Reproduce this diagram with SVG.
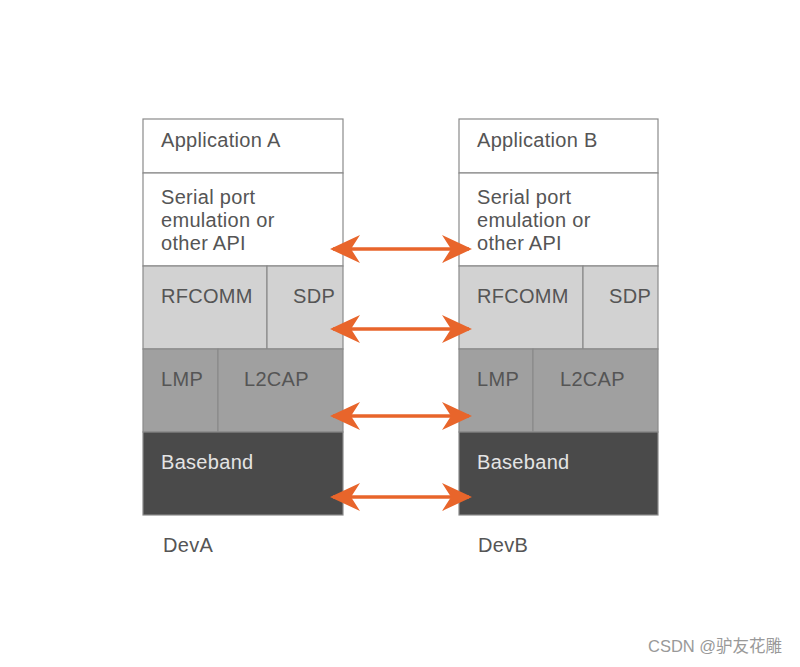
<svg xmlns="http://www.w3.org/2000/svg" width="800" height="667" viewBox="0 0 800 667">
<defs>
<style>
.t{font-family:"Liberation Sans",Arial,sans-serif;font-size:20px;fill:#555;letter-spacing:0.3px}
.tl{fill:#e4e4e4}
.b{stroke:#8a8a8a;stroke-width:1.2}
.c{stroke:#e8652b;stroke-width:3.5;fill:none}
</style>
<marker id="ah" viewBox="0 0 30 28" refX="27" refY="14" markerWidth="30" markerHeight="28" markerUnits="userSpaceOnUse" orient="auto-start-reverse">
<path d="M0,0 L30,14 L0,28 L9,14 Z" fill="#e8652b"/>
</marker>
</defs>
<rect width="800" height="667" fill="#ffffff"/>
<g id="devA">
<rect class="b" x="143" y="119" width="200" height="54" fill="#fff"/>
<rect class="b" x="143" y="173" width="200" height="93" fill="#fff"/>
<rect class="b" x="143" y="266" width="124" height="83" fill="#d2d2d2"/>
<rect class="b" x="267" y="266" width="76" height="83" fill="#d2d2d2"/>
<rect class="b" x="143" y="349" width="75" height="83" fill="#a0a0a0"/>
<rect class="b" x="218" y="349" width="125" height="83" fill="#a0a0a0"/>
<rect class="b" x="143" y="432" width="200" height="83" fill="#4a4a4a"/>
<text class="t" x="161" y="147">Application A</text>
<text class="t" x="161" y="204">Serial port</text>
<text class="t" x="161" y="227">emulation or</text>
<text class="t" x="161" y="250">other API</text>
<text class="t" x="161" y="303">RFCOMM</text>
<text class="t" x="293" y="303">SDP</text>
<text class="t" x="161" y="386">LMP</text>
<text class="t" x="244" y="386">L2CAP</text>
<text class="t tl" x="161" y="469">Baseband</text>
<text class="t" x="163" y="552">DevA</text>
</g>
<g id="devB">
<rect class="b" x="459" y="119" width="199" height="54" fill="#fff"/>
<rect class="b" x="459" y="173" width="199" height="93" fill="#fff"/>
<rect class="b" x="459" y="266" width="124" height="83" fill="#d2d2d2"/>
<rect class="b" x="583" y="266" width="75" height="83" fill="#d2d2d2"/>
<rect class="b" x="459" y="349" width="74" height="83" fill="#a0a0a0"/>
<rect class="b" x="533" y="349" width="125" height="83" fill="#a0a0a0"/>
<rect class="b" x="459" y="432" width="199" height="83" fill="#4a4a4a"/>
<text class="t" x="477" y="147">Application B</text>
<text class="t" x="477" y="204">Serial port</text>
<text class="t" x="477" y="227">emulation or</text>
<text class="t" x="477" y="250">other API</text>
<text class="t" x="477" y="303">RFCOMM</text>
<text class="t" x="609" y="303">SDP</text>
<text class="t" x="477" y="386">LMP</text>
<text class="t" x="560" y="386">L2CAP</text>
<text class="t tl" x="477" y="469">Baseband</text>
<text class="t" x="478" y="552">DevB</text>
</g>
<g id="connectors">
<line class="c" x1="333" y1="249" x2="469" y2="249" marker-start="url(#ah)" marker-end="url(#ah)"/>
<line class="c" x1="333" y1="329" x2="469" y2="329" marker-start="url(#ah)" marker-end="url(#ah)"/>
<line class="c" x1="333" y1="416" x2="469" y2="416" marker-start="url(#ah)" marker-end="url(#ah)"/>
<line class="c" x1="333" y1="497" x2="469" y2="497" marker-start="url(#ah)" marker-end="url(#ah)"/>
</g>
<text x="648" y="652" style="font-family:'Liberation Sans','Noto Sans CJK SC',sans-serif;font-size:16.5px;fill:#999">CSDN @驴友花雕</text>
</svg>
